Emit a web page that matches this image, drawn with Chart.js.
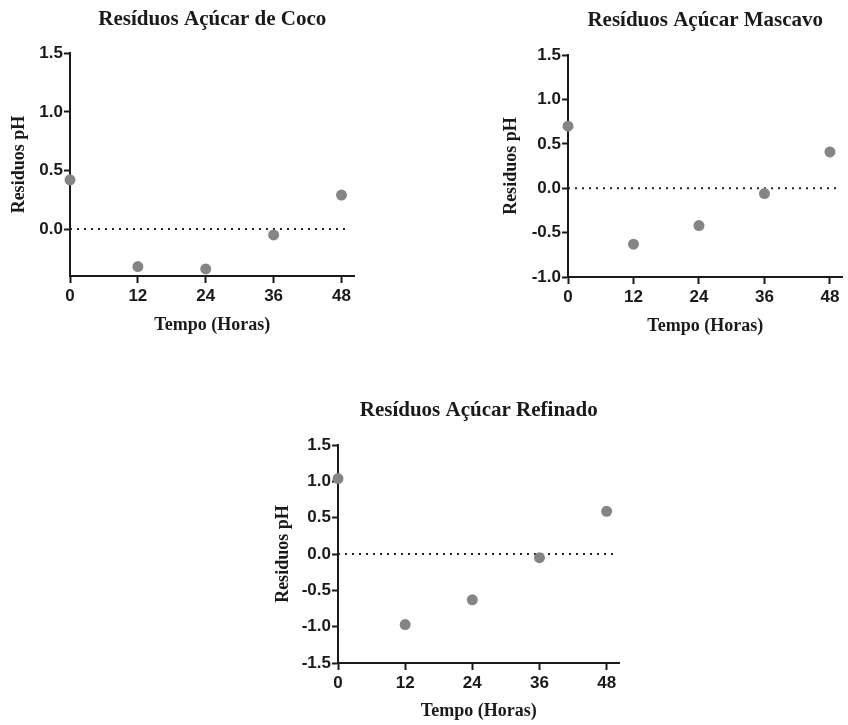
<!DOCTYPE html>
<html>
<head>
<meta charset="utf-8">
<script src="https://cdn.jsdelivr.net/npm/chart.js@4.4.1/dist/chart.umd.min.js"></script>
<style>
  body { margin: 0; background: #fff; }
  .graf { position: absolute; }
</style>
</head>
<body>
<div class="graf" style="left:0px; top:0px; width:360px; height:345px;"><canvas id="grafCoco"></canvas></div>
<div class="graf" style="left:490px; top:0px; width:358px; height:345px;"><canvas id="grafMascavo"></canvas></div>
<div class="graf" style="left:265px; top:395px; width:360px; height:330px;"><canvas id="grafRefinado"></canvas></div>
<script>
// dados
const horas = [0, 12, 24, 36, 48];
const residuosCoco = [0.42, -0.32, -0.34, -0.05, 0.29];
const residuosMascavo = [0.70, -0.63, -0.42, -0.06, 0.41];
const residuosRefinado = [1.04, -0.97, -0.63, -0.05, 0.59];

const ticksCoco = [0, 0.5, 1.0, 1.5];
const ticksMascavo = [-1.0, -0.5, 0, 0.5, 1.0, 1.5];
const ticksRefinado = [-1.5, -1.0, -0.5, 0, 0.5, 1.0, 1.5];

const corTexto = '#1a1a1a';
const fonteSerif = "'Liberation Serif', 'Times New Roman', serif";
const fonteSans = "'Liberation Sans', Arial, sans-serif";

function criarGrafico(id, titulo, valores, yMin, yMax, yTicks, caixa) {
    const pontos = horas.map((h, i) => ({ x: h, y: valores[i] }));

    new Chart(document.getElementById(id), {
        type: 'scatter',
        data: {
            datasets: [
                {
                    data: pontos,
                    pointRadius: 5.5,
                    pointBackgroundColor: '#858585',
                    pointBorderColor: '#858585',
                    pointBorderWidth: 0,
                    clip: false,
                    order: 0
                },
                {
                    data: [{ x: 0, y: 0 }, { x: 49.5, y: 0 }],
                    showLine: true,
                    borderColor: '#222',
                    borderWidth: 2,
                    borderDash: [2, 5],
                    pointRadius: 0,
                    order: 1
                }
            ]
        },
        options: {
            responsive: true,
            maintainAspectRatio: false,
            animation: false,
            layout: {
                padding: { left: 0, right: caixa.direita, top: 0, bottom: 0 }
            },
            plugins: {
                legend: { display: false },
                tooltip: { enabled: false },
                title: {
                    display: true,
                    text: titulo,
                    fullSize: false,
                    color: corTexto,
                    font: { family: fonteSerif, size: 21, weight: 'bold' },
                    padding: { top: caixa.tituloTopo, bottom: caixa.tituloBaixo }
                }
            },
            scales: {
                x: {
                    type: 'linear',
                    min: 0,
                    max: 50.3,
                    afterBuildTicks: (scale) => { scale.ticks = horas.map(v => ({ value: v })); },
                    afterFit: (scale) => { scale.height = caixa.alturaX; },
                    border: { color: '#1a1a1a', width: 2 },
                    grid: { drawOnChartArea: false, tickLength: 7, tickWidth: 2, color: '#1a1a1a' },
                    ticks: {
                        color: corTexto,
                        padding: 3,
                        maxRotation: 0,
                        font: { family: fonteSans, size: 17, weight: 'bold' }
                    },
                    title: {
                        display: true,
                        text: 'Tempo (Horas)',
                        color: corTexto,
                        font: { family: fonteSerif, size: 18, weight: 'bold' },
                        padding: { top: 0, bottom: caixa.tituloX }
                    }
                },
                y: {
                    min: yMin,
                    max: yMax,
                    afterBuildTicks: (scale) => { scale.ticks = yTicks.map(v => ({ value: v })); },
                    afterFit: (scale) => { scale.width = caixa.larguraY; },
                    border: { color: '#1a1a1a', width: 2 },
                    grid: { drawOnChartArea: false, tickLength: 6, tickWidth: 2, color: '#1a1a1a' },
                    ticks: {
                        color: corTexto,
                        padding: 1,
                        font: { family: fonteSans, size: 17, weight: 'bold' },
                        callback: (v) => v.toFixed(1)
                    },
                    title: {
                        display: true,
                        text: 'Residuos pH',
                        color: corTexto,
                        font: { family: fonteSerif, size: 18, weight: 'bold' },
                        padding: { top: caixa.tituloY, bottom: 0 }
                    }
                }
            }
        }
    });
}

criarGrafico('grafCoco', 'Resíduos Açúcar de Coco', residuosCoco, -0.4, 1.5, ticksCoco,
    { direita: 5, tituloTopo: 7, tituloBaixo: 21, alturaX: 69, larguraY: 70, tituloX: 9, tituloY: 9 });

criarGrafico('grafMascavo', 'Resíduos Açúcar Mascavo', residuosMascavo, -1.0, 1.5, ticksMascavo,
    { direita: 0, tituloTopo: 8, tituloBaixo: 22, alturaX: 68, larguraY: 78, tituloX: 8, tituloY: 11 });

criarGrafico('grafRefinado', 'Resíduos Açúcar Refinado', residuosRefinado, -1.5, 1.5, ticksRefinado,
    { direita: 5, tituloTopo: 3, tituloBaixo: 22, alturaX: 62, larguraY: 73, tituloX: 3, tituloY: 8 });
</script>
</body>
</html>
